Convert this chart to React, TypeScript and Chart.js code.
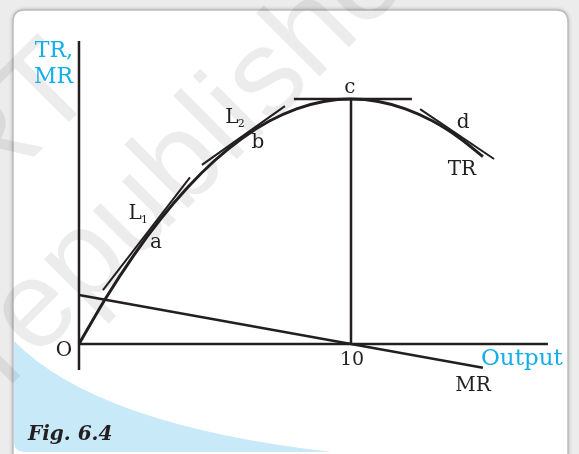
import React, { useEffect, useRef } from "react";
import { Chart, registerables } from "chart.js";

Chart.register(...registerables);

// ---- data (output units on x, revenue units on y) ----
const trOutput = [0, 1, 2, 3, 4, 5, 6, 7, 8, 9, 10, 11, 12, 13, 14, 14.85];
const trValues = [0, 19, 36, 51, 64, 75, 84, 91, 96, 99, 100, 99, 96, 91, 84, 76.5];

const mrOutput = [0, 14.85];
const mrValues = [20, -9.7];

const tangentL1 = [
  { x: 0.88, y: 22.0 },
  { x: 4.08, y: 68.0 },
];
const tangentL2 = [
  { x: 4.52, y: 73.1 },
  { x: 7.57, y: 97.1 },
];
const tangentC = [
  { x: 7.9, y: 100 },
  { x: 12.24, y: 100 },
];
const tangentD = [
  { x: 12.54, y: 95.9 },
  { x: 15.26, y: 75.5 },
];
const peakDrop = [
  { x: 10, y: 100 },
  { x: 10, y: 0 },
];
const yAxisLine = [
  { x: 0, y: 123.7 },
  { x: 0, y: -10.6 },
];
const xAxisLine = [
  { x: 0, y: 0 },
  { x: 17.24, y: 0 },
];

const xTickLabels = [{ text: "10", x: 10.04, y: -6.5 }];

const pointLabels = [
  { text: "a", x: 2.83, y: 41.2 },
  { text: "b", x: 6.58, y: 82.0 },
  { text: "c", x: 9.96, y: 104.5 },
  { text: "d", x: 14.12, y: 90.2 },
  { text: "TR", x: 14.08, y: 71.0 },
  { text: "MR", x: 14.49, y: -17.1 },
  { text: "O", x: -0.55, y: -2.9 },
];

const lineLabels = [
  { text: "L", sub: "1", x: 2.06, y: 53.1 },
  { text: "L", sub: "2", x: 5.62, y: 92.2 },
];

const yAxisTitle = ["TR,", "MR"];
const xAxisTitle = "Output";
const caption = "Fig. 6.4";

const INK = "#231f20";
const CYAN = "#14aee8";

function roundRect(ctx: CanvasRenderingContext2D, x: number, y: number, w: number, h: number, r: number) {
  ctx.beginPath();
  ctx.moveTo(x + r, y);
  ctx.lineTo(x + w - r, y);
  ctx.quadraticCurveTo(x + w, y, x + w, y + r);
  ctx.lineTo(x + w, y + h - r);
  ctx.quadraticCurveTo(x + w, y + h, x + w - r, y + h);
  ctx.lineTo(x + r, y + h);
  ctx.quadraticCurveTo(x, y + h, x, y + h - r);
  ctx.lineTo(x, y + r);
  ctx.quadraticCurveTo(x, y, x + r, y);
  ctx.closePath();
}

const backgroundPlugin = {
  id: "bookBackground",
  beforeDraw(chart: any) {
    const ctx: CanvasRenderingContext2D = chart.ctx;
    const W = chart.width;
    const H = chart.height;
    ctx.save();
    ctx.fillStyle = "#ececec";
    ctx.fillRect(0, 0, W, H);
    // card with soft shadow
    ctx.save();
    ctx.shadowColor = "rgba(0,0,0,0.35)";
    ctx.shadowBlur = 4;
    roundRect(ctx, 13, 10, 555, 460, 12);
    ctx.fillStyle = "#ffffff";
    ctx.fill();
    ctx.restore();
    roundRect(ctx, 13, 10, 555, 460, 12);
    ctx.strokeStyle = "#bdbdbd";
    ctx.lineWidth = 1.5;
    ctx.stroke();
    // blue swoosh
    ctx.save();
    roundRect(ctx, 14, 11, 553, 441, 11);
    ctx.clip();
    ctx.beginPath();
    ctx.moveTo(0, 335);
    ctx.lineTo(13, 340);
    ctx.quadraticCurveTo(100, 430, 360, 455);
    ctx.lineTo(0, 460);
    ctx.closePath();
    ctx.fillStyle = "#c8e9f8";
    ctx.fill();
    ctx.restore();
    // watermark
    ctx.save();
    ctx.rotate(-Math.PI / 4);
    ctx.font = '124px "Liberation Sans", Arial, sans-serif';
    ctx.fillStyle = "rgba(0,0,0,0.075)";
    ctx.textBaseline = "alphabetic";
    ctx.textAlign = "left";
    ctx.fillText("not to be republished", -788, 280);
    ctx.textAlign = "right";
    ctx.fillText("\u00A9NCERT", 6, 135);
    ctx.restore();
    ctx.restore();
  },
};

const labelPlugin = {
  id: "bookLabels",
  afterDatasetsDraw(chart: any) {
    const ctx: CanvasRenderingContext2D = chart.ctx;
    const xs = chart.scales.x;
    const ys = chart.scales.y;
    ctx.save();
    ctx.fillStyle = INK;
    ctx.textAlign = "center";
    ctx.textBaseline = "middle";
    ctx.font = '20px "DejaVu Serif", serif';
    for (const l of pointLabels) {
      ctx.fillText(l.text, xs.getPixelForValue(l.x), ys.getPixelForValue(l.y));
    }
    ctx.font = '19px "DejaVu Serif", serif';
    for (const l of xTickLabels) {
      ctx.fillText(l.text, xs.getPixelForValue(l.x), ys.getPixelForValue(l.y));
    }
    for (const l of lineLabels) {
      const px = xs.getPixelForValue(l.x);
      const py = ys.getPixelForValue(l.y);
      ctx.font = '20px "DejaVu Serif", serif';
      ctx.textAlign = "center";
      ctx.fillText(l.text, px, py);
      ctx.font = '11px "DejaVu Serif", serif';
      ctx.textAlign = "left";
      ctx.fillText(l.sub, px + 6, py + 6);
    }
    // axis titles
    const ox = xs.getPixelForValue(0);
    const oy = ys.getPixelForValue(0);
    ctx.fillStyle = CYAN;
    ctx.font = '22px "DejaVu Serif", serif';
    ctx.textAlign = "right";
    ctx.textBaseline = "alphabetic";
    ctx.fillText(yAxisTitle[0], ox - 6, 57);
    ctx.fillText(yAxisTitle[1], ox - 6, 83);
    ctx.font = '23px "DejaVu Serif", serif';
    ctx.textAlign = "left";
    ctx.fillText(xAxisTitle, 481, oy + 21);
    // caption
    ctx.fillStyle = INK;
    ctx.font = 'italic bold 20px "DejaVu Serif", serif';
    ctx.fillText(caption, 28, 440);
    ctx.restore();
  },
};

function seg(data: { x: number; y: number }[], width: number) {
  return {
    data,
    showLine: true,
    borderColor: INK,
    borderWidth: width,
    pointRadius: 0,
    fill: false,
  };
}

export default function App() {
  const ref = useRef<HTMLCanvasElement | null>(null);
  useEffect(() => {
    document.body.style.margin = "0";
    if (!ref.current) return;
    const trData = trOutput.map((q, i) => ({ x: q, y: trValues[i] }));
    const mrData = mrOutput.map((q, i) => ({ x: q, y: mrValues[i] }));
    const chart = new Chart(ref.current, {
      type: "scatter",
      data: {
        datasets: [
          seg(yAxisLine, 2.5),
          seg(xAxisLine, 2.5),
          { ...seg(trData, 3), cubicInterpolationMode: "monotone" } as any,
          seg(mrData, 2.5),
          seg(peakDrop, 2.5),
          seg(tangentC, 2.5),
          seg(tangentL1, 2),
          seg(tangentL2, 2),
          seg(tangentD, 2),
        ],
      },
      options: {
        animation: false,
        responsive: false,
        events: [],
        layout: { padding: 0 },
        plugins: { legend: { display: false }, tooltip: { enabled: false }, title: { display: false } },
        scales: {
          x: { type: "linear", display: false, min: -2.904, max: 18.382 },
          y: { type: "linear", display: false, min: -44.9, max: 140.41 },
        },
      },
      plugins: [backgroundPlugin, labelPlugin],
    });
    return () => chart.destroy();
  }, []);
  return (
    <div style={{ width: 579, height: 454 }}>
      <canvas ref={ref} width={579} height={454} style={{ display: "block" }} />
    </div>
  );
}
